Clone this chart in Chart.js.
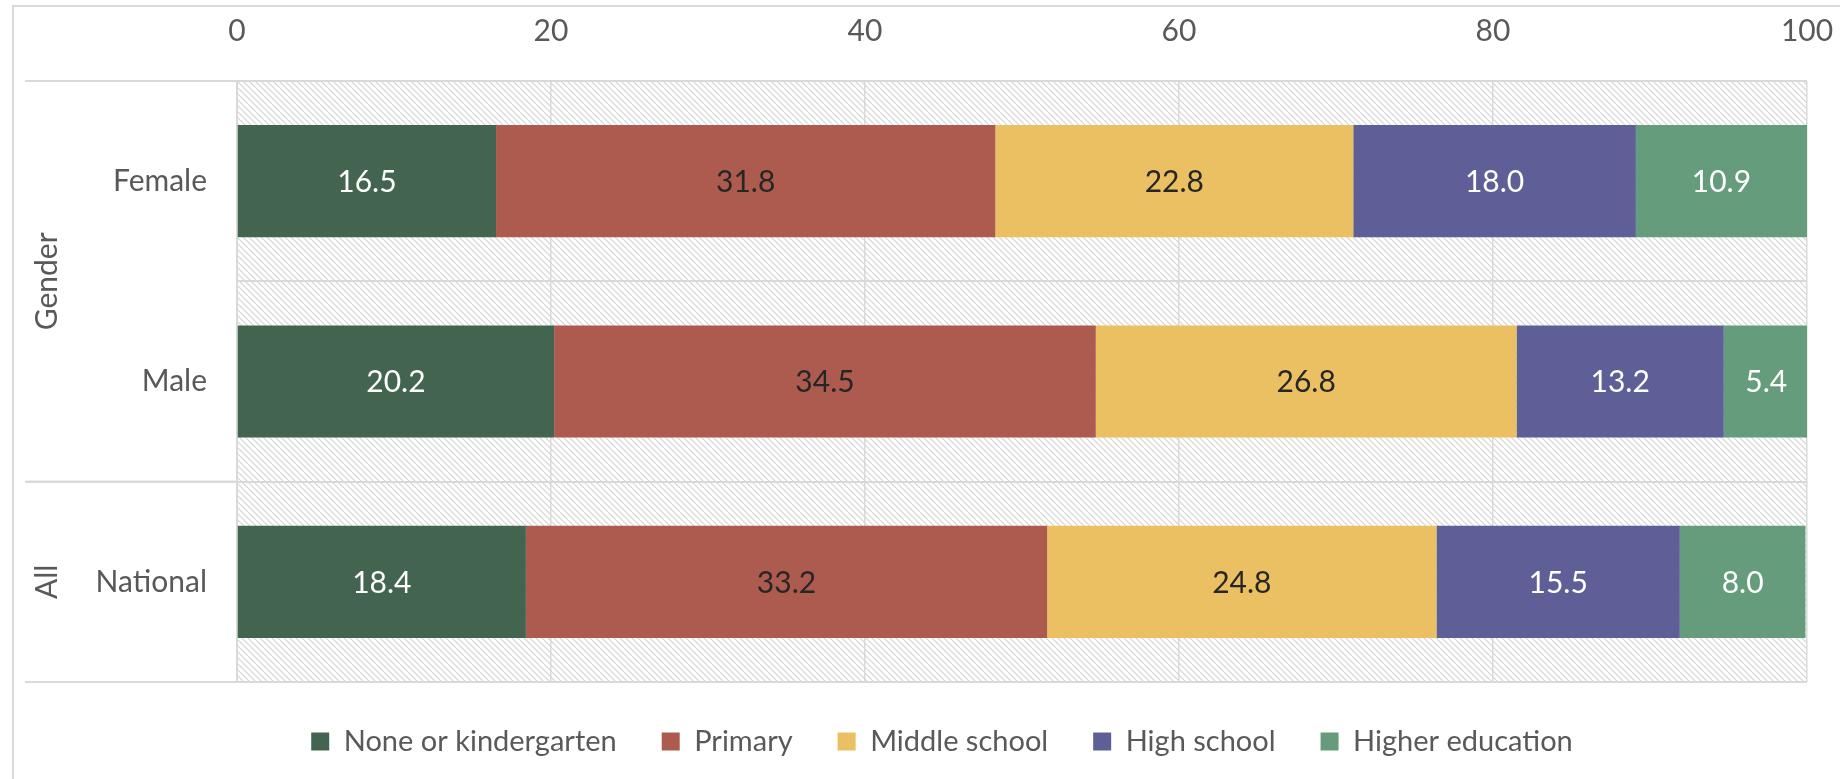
<!DOCTYPE html>
<html>
<head>
<meta charset="utf-8">
<script src="https://cdn.jsdelivr.net/npm/chart.js@4/dist/chart.umd.min.js"></script>
<style>
  html, body { margin: 0; padding: 0; background: #fff; overflow: hidden; }
  #wrap { width: 1840px; height: 779px; position: relative; }
</style>
</head>
<body>
<div id="wrap"><canvas id="chart" width="1840" height="779"></canvas></div>
<script>
const categories = ['Female', 'Male', 'National'];
const groups = [
  { label: 'Gender', from: 'Female', to: 'Male' },
  { label: 'All', from: 'National', to: 'National' }
];
const seriesNames = ['None or kindergarten', 'Primary', 'Middle school', 'High school', 'Higher education'];
const noneKinder = [16.5, 20.2, 18.4];
const primary = [31.8, 34.5, 33.2];
const middleSchool = [22.8, 26.8, 24.8];
const highSchool = [18.0, 13.2, 15.5];
const higherEd = [10.9, 5.4, 8.0];
const xTicks = [0, 20, 40, 60, 80, 100];

const colors = ['#43654f', '#ae5b4f', '#eac062', '#5d5f96', '#659d7c'];
const labelColors = ['#ffffff', '#262626', '#262626', '#ffffff', '#ffffff'];
const textGrey = '#595959';
const lineGrey = '#d9d9d9';
const FONT = 'Lato';

// hatched background for the plot area
function makeHatch() {
  const c = document.createElement('canvas');
  c.width = 6; c.height = 6;
  const g = c.getContext('2d');
  g.fillStyle = '#fff';
  g.fillRect(0, 0, 6, 6);
  g.strokeStyle = '#d4d4d4';
  g.lineWidth = 1.2;
  g.beginPath();
  g.moveTo(-1, -1); g.lineTo(7, 7);
  g.moveTo(-7, -1); g.lineTo(1, 7);
  g.moveTo(5, -1); g.lineTo(13, 7);
  g.stroke();
  return g.createPattern(c, 'repeat');
}

const decorPlugin = {
  id: 'decor',
  beforeInit(chart) {
    // fixed legend band under the plot
    const legend = chart.legend;
    if (legend && !legend._patched) {
      const orig = legend.fit;
      legend.fit = function () { orig.call(this); this.height = 97; };
      legend._patched = true;
    }
  },
  beforeDraw(chart) {
    const ctx = chart.ctx, a = chart.chartArea;
    ctx.save();
    ctx.fillStyle = '#fff';
    ctx.fillRect(0, 0, chart.width, chart.height);
    ctx.strokeStyle = lineGrey;
    ctx.lineWidth = 2;
    ctx.strokeRect(13, 6, chart.width + 20, chart.height + 20);
    ctx.fillStyle = makeHatch();
    ctx.fillRect(a.left, a.top, a.right - a.left, a.bottom - a.top);
    ctx.restore();
  },
  afterDraw(chart) {
    const ctx = chart.ctx, a = chart.chartArea, ys = chart.scales.y;
    const half = (ys.getPixelForValue(1) - ys.getPixelForValue(0)) / 2;
    ctx.save();
    ctx.strokeStyle = lineGrey;
    ctx.lineWidth = 2;
    ctx.fillStyle = textGrey;
    ctx.font = '30px ' + FONT;
    ctx.textAlign = 'center';
    ctx.textBaseline = 'middle';
    groups.forEach(gr => {
      const top = ys.getPixelForValue(categories.indexOf(gr.from)) - half;
      const bot = ys.getPixelForValue(categories.indexOf(gr.to)) + half;
      [top, bot].forEach(y => {
        ctx.beginPath();
        ctx.moveTo(25, y); ctx.lineTo(a.left, y);
        ctx.stroke();
      });
      ctx.save();
      ctx.translate(47, (top + bot) / 2);
      ctx.rotate(-Math.PI / 2);
      ctx.fillText(gr.label, 0, 0);
      ctx.restore();
    });
    // value labels in the middle of each segment
    chart.data.datasets.forEach((ds, di) => {
      chart.getDatasetMeta(di).data.forEach((bar, i) => {
        const p = bar.getProps(['x', 'y', 'base'], true);
        ctx.fillStyle = labelColors[di];
        ctx.fillText(ds.data[i].toFixed(1), (p.x + p.base) / 2, p.y + 1);
      });
    });
    ctx.restore();
  }
};

const seriesData = [noneKinder, primary, middleSchool, highSchool, higherEd];

new Chart(document.getElementById('chart'), {
  type: 'bar',
  data: {
    labels: categories,
    datasets: seriesNames.map((name, i) => ({
      label: name,
      data: seriesData[i],
      backgroundColor: colors[i],
      borderWidth: 0,
      categoryPercentage: 1,
      barPercentage: 0.56
    }))
  },
  options: {
    indexAxis: 'y',
    responsive: false,
    animation: false,
    layout: { padding: { left: 77, right: 33, top: 0, bottom: 0 } },
    plugins: {
      tooltip: { enabled: false },
      legend: {
        position: 'bottom',
        labels: {
          color: textGrey,
          font: { family: FONT, size: 29 },
          boxWidth: 18,
          boxHeight: 18,
          padding: 45
        }
      }
    },
    scales: {
      x: {
        position: 'top',
        stacked: true,
        min: 0,
        max: 100,
        afterBuildTicks: s => { s.ticks = xTicks.map(v => ({ value: v })); },
        ticks: { color: textGrey, font: { family: FONT, size: 30 }, padding: 32 },
        grid: { color: lineGrey, lineWidth: 1.5, drawTicks: false },
        border: { display: false },
        afterFit: s => { s.height = 81; s.paddingLeft = 0; s.paddingRight = 0; }
      },
      y: {
        stacked: true,
        ticks: { color: textGrey, font: { family: FONT, size: 30 }, padding: 30 },
        grid: { color: lineGrey, lineWidth: 2, offset: true, drawTicks: false },
        border: { color: lineGrey, width: 2 },
        afterFit: s => { s.width = 160; }
      }
    }
  },
  plugins: [decorPlugin]
});
</script>
</body>
</html>
